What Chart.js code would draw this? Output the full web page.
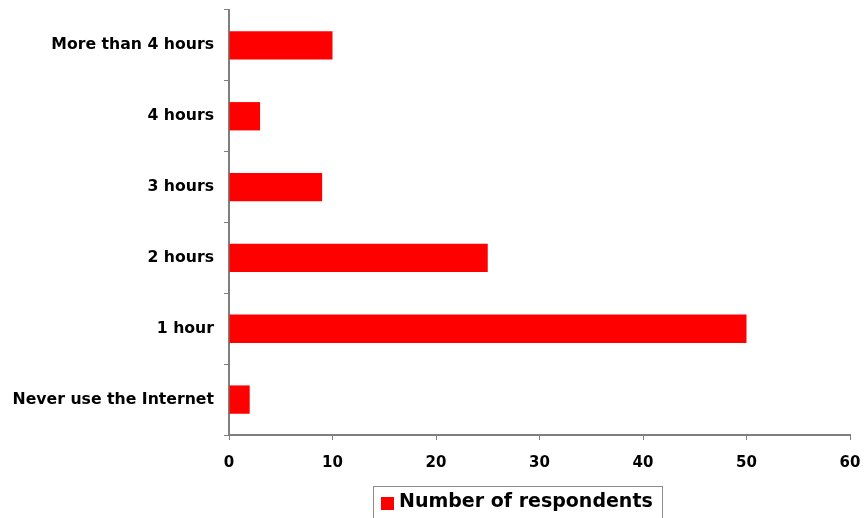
<!DOCTYPE html>
<html>
<head>
<meta charset="utf-8">
<script src="https://cdn.jsdelivr.net/npm/chart.js@4/dist/chart.umd.min.js"></script>
<style>
  html, body { margin: 0; padding: 0; background: #fff; }
  #wrap { width: 865px; height: 518px; }
</style>
</head>
<body>
<div id="wrap"><canvas id="c" width="865" height="518"></canvas></div>
<script>
// Daily Internet use, listed top to bottom
const categories = ["More than 4 hours", "4 hours", "3 hours", "2 hours", "1 hour", "Never use the Internet"];
const respondents = [10, 3, 9, 25, 50, 2];
const seriesName = "Number of respondents";
const xTicks = [0, 10, 20, 30, 40, 50, 60];

const FONT = "'DejaVu Sans', Arial, sans-serif";
const AXIS = "#7f7f7f";
const RED = "#ff0000";

// Boxed legend under the plot
const boxedLegend = {
  id: "boxedLegend",
  afterDraw(chart) {
    const ctx = chart.ctx;
    ctx.save();
    ctx.strokeStyle = "#8c8c8c";
    ctx.lineWidth = 1;
    ctx.strokeRect(373.5, 486.5, 289, 40);
    ctx.fillStyle = chart.data.datasets[0].backgroundColor;
    ctx.fillRect(381, 497, 13, 13);
    ctx.fillStyle = "#000";
    ctx.font = "bold 19px " + FONT;
    ctx.textBaseline = "middle";
    ctx.fillText(chart.data.datasets[0].label, 399, 502);
    ctx.restore();
  }
};

// Keep the plot box where the layout padding puts it
function noOverhang(scale) {
  scale.paddingLeft = 0;
  scale.paddingRight = 0;
  scale.paddingTop = 0;
  scale.paddingBottom = 0;
}

new Chart(document.getElementById("c"), {
  type: "bar",
  data: {
    labels: categories,
    datasets: [{
      label: seriesName,
      data: respondents,
      backgroundColor: RED,
      borderWidth: 0,
      categoryPercentage: 1,
      barPercentage: 0.4
    }]
  },
  options: {
    indexAxis: "y",
    responsive: false,
    animation: false,
    layout: { padding: { left: 0, right: 15, top: 10, bottom: 0 } },
    plugins: {
      legend: { display: false },
      tooltip: { enabled: false }
    },
    scales: {
      x: {
        min: 0,
        max: 60,
        afterBuildTicks(scale) { scale.ticks = xTicks.map(v => ({ value: v })); },
        afterFit(scale) { scale.height = 83; noOverhang(scale); },
        grid: { drawOnChartArea: false, drawTicks: true, tickLength: 5, color: AXIS },
        border: { display: true, color: AXIS, width: 2 },
        ticks: { color: "#000", font: { family: FONT, size: 15, weight: "bold" }, padding: 14, maxRotation: 0 }
      },
      y: {
        afterFit(scale) { scale.width = 229; noOverhang(scale); },
        grid: { drawOnChartArea: false, drawTicks: true, tickLength: 5, color: AXIS, offset: true },
        border: { display: true, color: AXIS, width: 2 },
        ticks: { color: "#000", font: { family: FONT, size: 15.7, weight: "bold" }, padding: 10 }
      }
    }
  },
  plugins: [boxedLegend]
});
</script>
</body>
</html>
